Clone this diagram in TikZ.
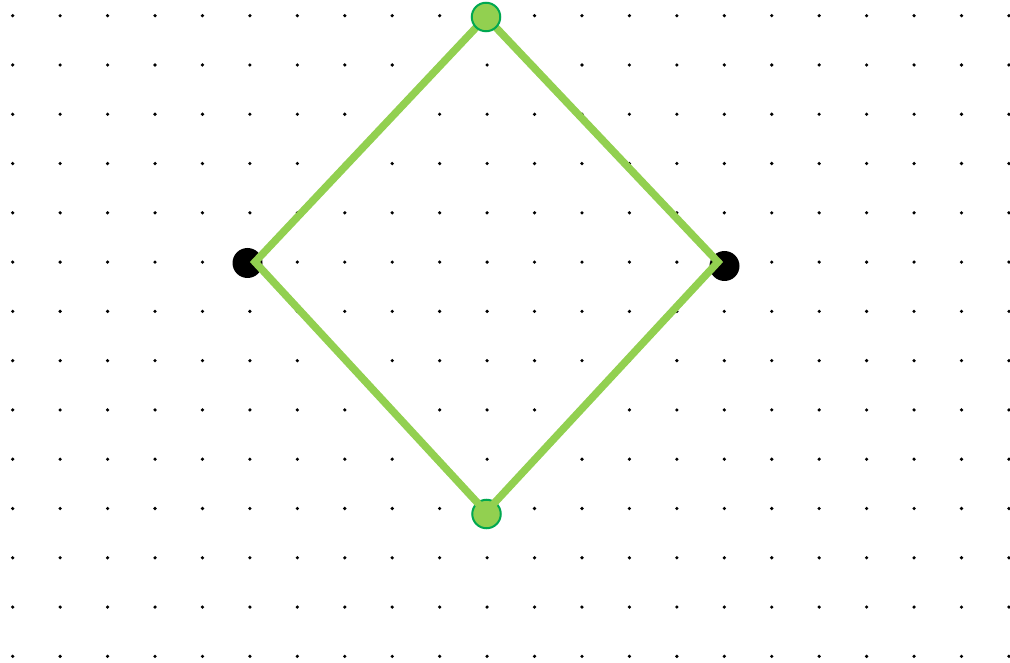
\documentclass[tikz,border=0pt]{standalone}
\usepackage{tikz}
\definecolor{lgreen}{HTML}{92D050}
\definecolor{dgreen}{HTML}{00A850}
\tikzset{
  griddot/.style={circle,fill=black,inner sep=0pt,minimum size=3.6pt},
  blackend/.style={circle,fill=black,inner sep=0pt,minimum size=30pt},
  greenend/.style={circle,fill=lgreen,draw=dgreen,line width=2pt,inner sep=0pt,minimum size=28.5pt},
  edge/.style={draw=lgreen,line width=7.5pt,line join=miter}
}
\begin{document}
\begin{tikzpicture}[x=1pt,y=-1pt]
\useasboundingbox (0,0) rectangle (1010,663);
\fill[white] (0,0) rectangle (1010,663);
\foreach \i in {0,...,21}{
  \foreach \j in {0,...,13}{
    \node[griddot] (g-\i-\j) at ({12.7+47.44*\i},{15.7+49.28*\j}) {};
  }
}
\node[blackend] (bl) at (247.5,263) {};
\node[blackend] (br) at (724.5,266) {};
\coordinate (vt) at (486,17);
\coordinate (vr) at (718,262);
\coordinate (vb) at (486,512);
\coordinate (vl) at (255,262);
\node[greenend] (gb) at (486.5,514) {};
\draw[edge] (vt) -- (vr) -- (vb) -- (vl) -- cycle;
\node[greenend] (gt) at (486,17) {};
\end{tikzpicture}
\end{document}
